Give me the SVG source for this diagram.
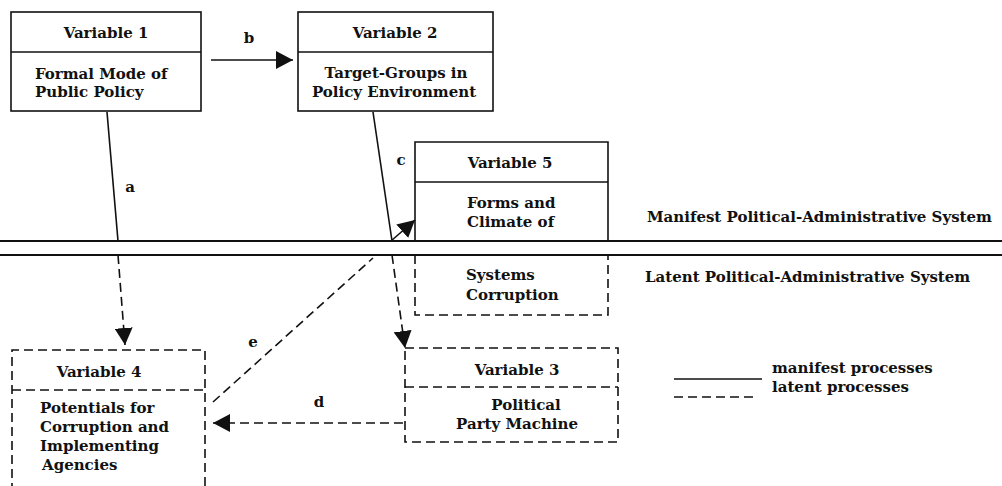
<svg xmlns="http://www.w3.org/2000/svg" width="1002" height="486" viewBox="0 0 1002 486">
<style>
text{font-family:"DejaVu Serif","Liberation Serif",serif;font-weight:bold;font-size:15px;fill:#111}
.m{text-anchor:middle}
.solid{fill:none;stroke:#111;stroke-width:1.6}
.dash{fill:none;stroke:#111;stroke-width:1.6;stroke-dasharray:9 5}
.sys{fill:none;stroke:#111;stroke-width:2}
</style>
<defs>
<marker id="ah" viewBox="0 0 17 18" refX="17" refY="9" markerWidth="17" markerHeight="18" markerUnits="userSpaceOnUse" orient="auto">
<path d="M0,0 L17,9 L0,18 z" fill="#111"/>
</marker>
</defs>
<rect width="1002" height="486" fill="#fff"/>

<g id="system-lines">
<line class="sys" x1="0" y1="241" x2="1002" y2="241"/>
<line class="sys" x1="0" y1="255" x2="1002" y2="255"/>
<text x="647" y="222">Manifest Political-Administrative System</text>
<text x="645" y="282">Latent Political-Administrative System</text>
</g>

<g id="var1">
<rect class="solid" x="11" y="12" width="190" height="99"/>
<line class="solid" x1="11" y1="52" x2="201" y2="52"/>
<text class="m" x="106" y="38">Variable 1</text>
<text x="35" y="79">Formal Mode of</text>
<text x="35" y="97">Public Policy</text>
</g>

<g id="var2">
<rect class="solid" x="298" y="12" width="195" height="99"/>
<line class="solid" x1="298" y1="52" x2="493" y2="52"/>
<text class="m" x="395" y="38">Variable 2</text>
<text class="m" x="396" y="78">Target-Groups in</text>
<text class="m" x="394" y="97">Policy Environment</text>
</g>

<g id="var5">
<path class="solid" d="M415,241 V142 H608 V241"/>
<line class="solid" x1="415" y1="182" x2="608" y2="182"/>
<path class="dash" d="M415,255 V315 H608 V255"/>
<text class="m" x="510" y="168">Variable 5</text>
<text x="467" y="208">Forms and</text>
<text x="467" y="227">Climate of</text>
<text x="466" y="280">Systems</text>
<text x="466" y="300">Corruption</text>
</g>

<g id="var4">
<path class="dash" d="M12,492 V350 H205 V492"/>
<line class="dash" x1="12" y1="390" x2="205" y2="390"/>
<text class="m" x="99" y="377">Variable 4</text>
<text x="40" y="413">Potentials for</text>
<text x="40" y="432">Corruption and</text>
<text x="40" y="451">Implementing</text>
<text x="42" y="470">Agencies</text>
</g>

<g id="var3">
<rect class="dash" x="405" y="348" width="213" height="94"/>
<line class="dash" x1="405" y1="387" x2="618" y2="387"/>
<text class="m" x="517" y="375">Variable 3</text>
<text class="m" x="526" y="410">Political</text>
<text class="m" x="517" y="429">Party Machine</text>
</g>

<g id="connectors">
<line class="solid" x1="211" y1="60" x2="293" y2="60" marker-end="url(#ah)"/>
<line class="solid" x1="107" y1="112" x2="118" y2="241"/>
<line class="dash" x1="118" y1="255" x2="125" y2="345" marker-end="url(#ah)"/>
<line class="solid" x1="373" y1="112" x2="392" y2="241"/>
<line class="dash" x1="392" y1="255" x2="405" y2="348" marker-end="url(#ah)"/>
<line class="dash" x1="403" y1="423" x2="213" y2="423" marker-end="url(#ah)"/>
<line class="dash" x1="213" y1="402" x2="373" y2="258"/>
<line class="solid" x1="391" y1="241" x2="415" y2="220" marker-end="url(#ah)"/>
</g>

<g id="connector-labels">
<text class="m" x="249" y="43">b</text>
<text class="m" x="130" y="192">a</text>
<text class="m" x="401" y="165">c</text>
<text class="m" x="319" y="407">d</text>
<text class="m" x="253" y="347">e</text>
</g>

<g id="legend">
<line class="solid" x1="674" y1="379" x2="762" y2="379"/>
<line class="dash" x1="674" y1="397" x2="755" y2="397"/>
<text x="772" y="373">manifest processes</text>
<text x="772" y="392">latent processes</text>
</g>
</svg>
